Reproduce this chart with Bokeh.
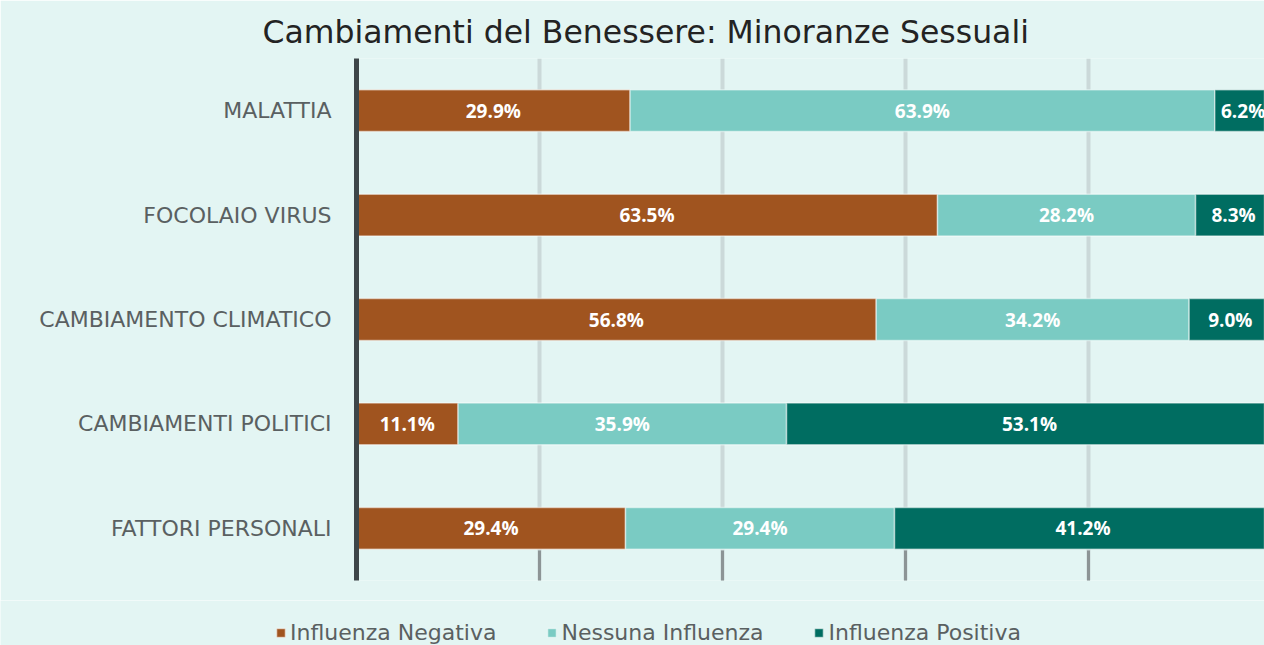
from bokeh.plotting import figure
from bokeh.layouts import column
from bokeh.models import ColumnDataSource, FactorRange, FixedTicker, Range1d, Legend, LegendItem, Title
from bokeh.core.properties import value
from bokeh.embed import file_html
from bokeh.resources import INLINE

categories = ["MALATTIA", "FOCOLAIO VIRUS", "CAMBIAMENTO CLIMATICO", "CAMBIAMENTI POLITICI", "FATTORI PERSONALI"]
negativa = [29.9, 63.5, 56.8, 11.1, 29.4]
nessuna = [63.9, 28.2, 34.2, 35.9, 29.4]
positiva = [6.2, 8.3, 9.0, 53.1, 41.2]
series_names = ["Influenza Negativa", "Nessuna Influenza", "Influenza Positiva"]
colors = ["#a0541f", "#7acbc3", "#006d61"]
grid_ticks = [20, 40, 60, 80]

BG = "#e3f5f3"
W = 1264
H1, H2 = 600, 45
LEFT, TOP, BOTTOM = 356, 58, 20
frame_w = W - LEFT
x_end = frame_w / 915 * 100
FONT = "DejaVu Sans"

p = figure(width=W, height=H1, output_backend="svg", toolbar_location=None,
           y_range=FactorRange(*categories[::-1]), x_range=Range1d(0, x_end),
           min_border_left=LEFT, min_border_right=0, min_border_top=TOP, min_border_bottom=BOTTOM)
p.background_fill_color = BG
p.border_fill_color = BG
p.outline_line_color = None

src = ColumnDataSource(dict(cat=categories, neg=negativa, none=nessuna, pos=positiva))
renderers = p.hbar_stack(["neg", "none", "pos"], y="cat", height=0.4, color=colors,
                         line_color="#ffffff", line_alpha=0.5, line_width=1.5, source=src)

xs, ys, txt = [], [], []
for i, c in enumerate(categories):
    vals = [negativa[i], nessuna[i], positiva[i]]
    start = 0
    for v in vals:
        xs.append(start + v / 2)
        ys.append(c)
        txt.append(f"{v:.1f}%")
        start += v
lab = ColumnDataSource(dict(x=xs, y=ys, t=txt))
p.text(x="x", y="y", text="t", source=lab, text_color="white", text_font=value("Open Sans"),
       text_font_style="bold", text_font_size="19px", text_align="center", text_baseline="middle")

p.xaxis.ticker = FixedTicker(ticks=grid_ticks)
p.xaxis.axis_line_color = None
p.xaxis.major_label_overrides = {t: "" for t in grid_ticks}
p.xaxis.major_tick_in = 30
p.xaxis.major_tick_out = 0
p.xaxis.major_tick_line_color = "#8c9495"
p.xaxis.major_tick_line_width = 3
p.xaxis.minor_tick_line_color = None
p.xgrid.grid_line_color = "#cbd9d9"
p.xgrid.grid_line_width = 4
p.ygrid.grid_line_color = None

p.yaxis.axis_line_color = "#3d4548"
p.yaxis.axis_line_width = 5
p.yaxis.major_tick_line_color = None
p.yaxis.minor_tick_line_color = None
p.yaxis.major_label_text_font = FONT
p.yaxis.major_label_text_font_size = "22px"
p.yaxis.major_label_text_color = "#5a6061"
p.yaxis.major_label_standoff = 19

p.title = Title(text="Cambiamenti del Benessere: Minoranze Sessuali", align="left", offset=-94,
                text_font=FONT, text_font_size="31.5px", text_font_style="normal",
                text_color="#232323", standoff=18)

# legend strip below the chart
q = figure(width=W, height=H2, output_backend="svg", toolbar_location=None,
           x_range=Range1d(0, 1), y_range=FactorRange(*categories[::-1]),
           x_axis_location=None, y_axis_location=None,
           min_border_left=0, min_border_right=0, min_border_top=0, min_border_bottom=0)
if "frame_align" in q.properties():
    q.frame_align = False
    p.frame_align = False
q.background_fill_color = BG
q.border_fill_color = BG
q.outline_line_color = None
q.grid.visible = False
dummies = q.hbar_stack(["neg", "none", "pos"], y="cat", height=0.4, color=colors,
                       line_color="#ffffff", line_alpha=0.5, line_width=1.5,
                       source=ColumnDataSource(dict(cat=categories, neg=negativa, none=nessuna, pos=positiva)))
for r in dummies:
    r.visible = False
legend = Legend(items=[LegendItem(label=n, renderers=[r]) for n, r in zip(series_names, dummies)],
                orientation="horizontal", location=(275, 0),
                background_fill_alpha=0, border_line_color=None,
                label_text_font=FONT, label_text_font_size="22px", label_text_color="#5a6061",
                glyph_width=11, glyph_height=11, label_standoff=4, spacing=50, padding=0, margin=0)
q.add_layout(legend, "center")

layout = column(p, q, spacing=0)
open("out.html", "w").write(file_html(layout, INLINE))
